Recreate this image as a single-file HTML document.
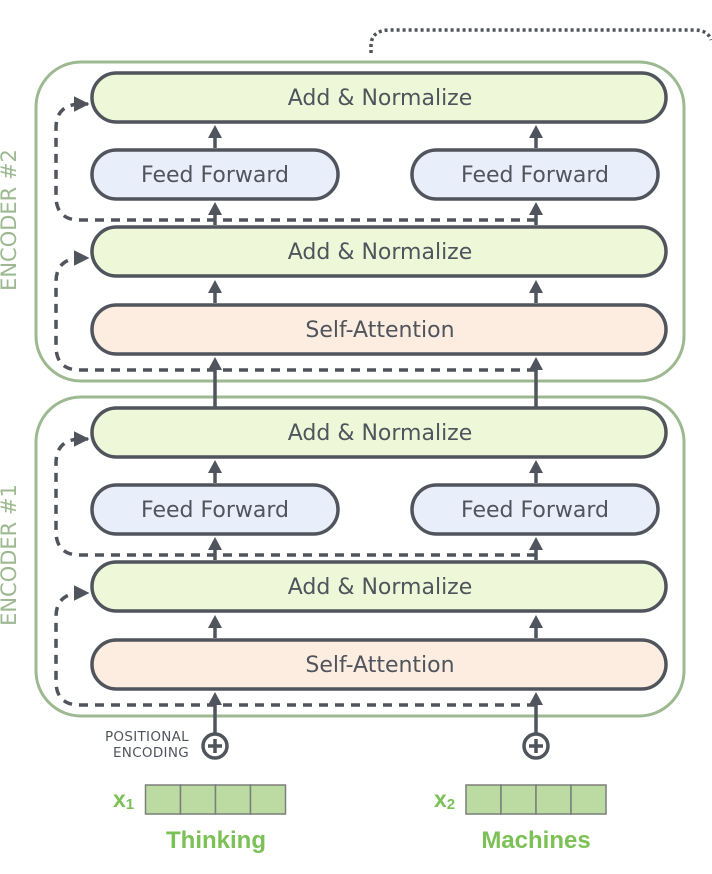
<!DOCTYPE html>
<html><head><style>
html,body{margin:0;padding:0;background:#fff;}
svg{display:block;}
text{font-family:"DejaVu Sans","Liberation Sans",sans-serif;}
</style></head><body>
<svg width="712" height="874" viewBox="0 0 712 874" xmlns="http://www.w3.org/2000/svg">
<defs>
<marker id="ah" viewBox="0 0 10 10" refX="9" refY="5" markerWidth="4.5" markerHeight="4.5" orient="auto">
<path d="M0,0 L10,5 L0,10 z" fill="#50545c"/></marker>
<g id="enc">
  <rect x="36" y="62" width="648" height="319" rx="45" fill="none" stroke="#9db991" stroke-width="3"/>
  <path d="M536,370 L80,370 Q56,370 56,346 L56,282 Q56,260 78,258 L88,258" fill="none" stroke="#50545c" stroke-width="3.5" stroke-dasharray="9,7" marker-end="url(#ah)"/>
  <path d="M536,220 L80,220 Q56,220 56,196 L56,128 Q56,106 78,104 L88,104" fill="none" stroke="#50545c" stroke-width="3.5" stroke-dasharray="9,7" marker-end="url(#ah)"/>
  <rect x="92" y="73" width="574" height="49" rx="24.5" fill="#eef8d8" stroke="#50545c" stroke-width="3.5"/>
  <text x="380" y="105" font-size="22" fill="#50545c" text-anchor="middle">Add &amp; Normalize</text>
  <rect x="92" y="150" width="246" height="49" rx="24.5" fill="#e8effa" stroke="#50545c" stroke-width="3.5"/>
  <text x="215" y="182" font-size="22" fill="#50545c" text-anchor="middle">Feed Forward</text>
  <rect x="412" y="150" width="246" height="49" rx="24.5" fill="#e8effa" stroke="#50545c" stroke-width="3.5"/>
  <text x="535" y="182" font-size="22" fill="#50545c" text-anchor="middle">Feed Forward</text>
  <rect x="92" y="227" width="574" height="49" rx="24.5" fill="#eef8d8" stroke="#50545c" stroke-width="3.5"/>
  <text x="380" y="259" font-size="22" fill="#50545c" text-anchor="middle">Add &amp; Normalize</text>
  <rect x="92" y="305" width="574" height="49" rx="24.5" fill="#fcede0" stroke="#50545c" stroke-width="3.5"/>
  <text x="380" y="337" font-size="22" fill="#50545c" text-anchor="middle">Self-Attention</text>
  <g stroke="#50545c" stroke-width="3.5" fill="#50545c">
    <line x1="215" y1="148" x2="215" y2="136"/><line x1="536" y1="148" x2="536" y2="136"/>
    <line x1="215" y1="225" x2="215" y2="213"/><line x1="536" y1="225" x2="536" y2="213"/>
    <line x1="215" y1="303" x2="215" y2="291"/><line x1="536" y1="303" x2="536" y2="291"/>
  </g>
  <g fill="#50545c">
    <path d="M215,125 l-7,13 h14 z"/><path d="M536,125 l-7,13 h14 z"/>
    <path d="M215,202 l-7,13 h14 z"/><path d="M536,202 l-7,13 h14 z"/>
    <path d="M215,280 l-7,13 h14 z"/><path d="M536,280 l-7,13 h14 z"/>
  </g>
</g>
</defs>
<path d="M371,53 L371,46 Q371,30 390,30 L694,30 Q708,30 711,40" fill="none" stroke="#50545c" stroke-width="3.5" stroke-dasharray="3,3"/>
<use href="#enc"/>
<use href="#enc" transform="translate(0,335)"/>
<g stroke="#50545c" stroke-width="3.5">
  <line x1="215" y1="407" x2="215" y2="368"/><line x1="536" y1="407" x2="536" y2="368"/>
  <line x1="215" y1="733" x2="215" y2="703"/><line x1="536" y1="733" x2="536" y2="703"/>
</g>
<g fill="#50545c">
  <path d="M215,357 l-7,13 h14 z"/><path d="M536,357 l-7,13 h14 z"/>
  <path d="M215,692 l-7,13 h14 z"/><path d="M536,692 l-7,13 h14 z"/>
</g>
<text transform="translate(16,220) rotate(-90)" font-size="21" fill="#9db991" text-anchor="middle">ENCODER #2</text>
<text transform="translate(16,555) rotate(-90)" font-size="21" fill="#9db991" text-anchor="middle">ENCODER #1</text>
<g stroke="#50545c" stroke-width="3.5" fill="#fff">
  <circle cx="215" cy="746" r="12"/><circle cx="536" cy="746" r="12"/>
  <path d="M208,746 h14 M215,739 v14 M529,746 h14 M536,739 v14"/>
</g>
<text x="189" y="741" font-size="13.5" fill="#50545c" text-anchor="end" letter-spacing="0.3">POSITIONAL</text>
<text x="189" y="757" font-size="13.5" fill="#50545c" text-anchor="end" letter-spacing="0.3">ENCODING</text>
<g fill="#bcdba3" stroke="#7a7f7a" stroke-width="1.5">
  <rect x="145.5" y="785" width="35" height="29"/><rect x="180.5" y="785" width="35" height="29"/><rect x="215.5" y="785" width="35" height="29"/><rect x="250.5" y="785" width="35" height="29"/>
  <rect x="466" y="785" width="35" height="29"/><rect x="501" y="785" width="35" height="29"/><rect x="536" y="785" width="35" height="29"/><rect x="571" y="785" width="35" height="29"/>
</g>
<g font-weight="bold" fill="#7cc156">
  <text x="113" y="807" font-size="23" style="font-family:'Liberation Sans',sans-serif">x<tspan font-size="15" dy="2">1</tspan></text>
  <text x="434" y="807" font-size="23" style="font-family:'Liberation Sans',sans-serif">x<tspan font-size="15" dy="2">2</tspan></text>
  <text x="216" y="848" font-size="24" text-anchor="middle" style="font-family:'Liberation Sans',sans-serif">Thinking</text>
  <text x="536" y="848" font-size="24" text-anchor="middle" style="font-family:'Liberation Sans',sans-serif">Machines</text>
</g>
</svg>
</body></html>
